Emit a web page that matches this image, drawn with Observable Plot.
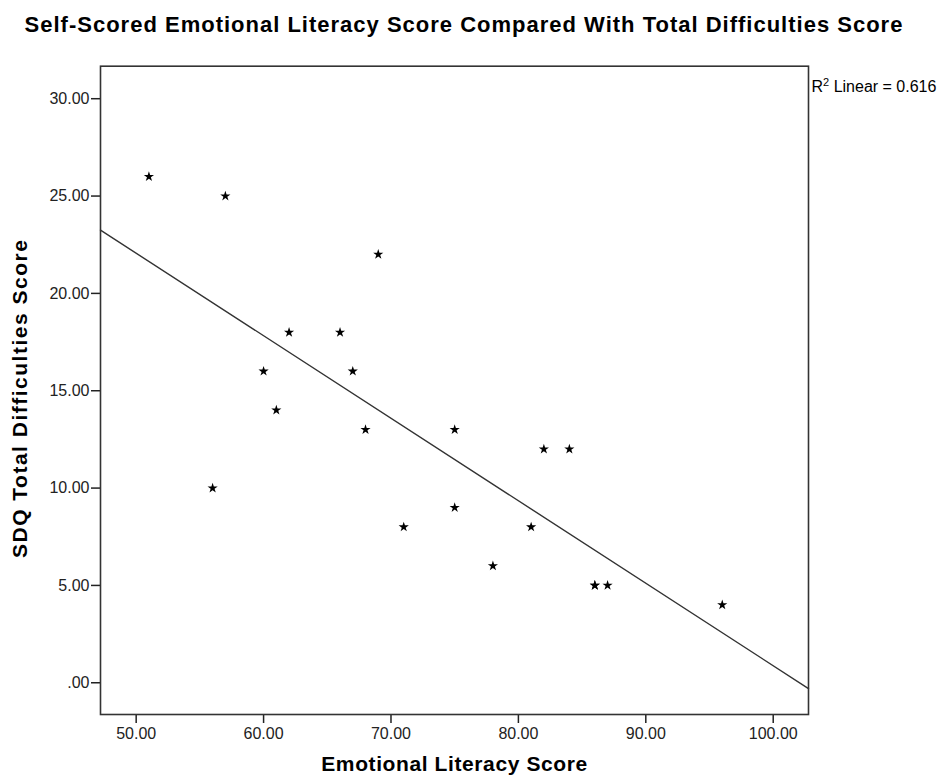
<!DOCTYPE html>
<html><head><meta charset="utf-8">
<script src="https://cdn.jsdelivr.net/npm/d3@7"></script>
<script src="https://cdn.jsdelivr.net/npm/@observablehq/plot@0.6"></script>
<style>
body{margin:0;background:#fff;font-family:"Liberation Sans",Arial,sans-serif;}
#title{height:50px;box-sizing:border-box;padding-top:14px;padding-left:0;width:928px;text-align:center;font-weight:bold;font-size:22px;letter-spacing:1px;color:#000;line-height:22px;white-space:nowrap;}
#chart svg{display:block;}
</style></head><body>
<div id="title">Self-Scored Emotional Literacy Score Compared With Total Difficulties Score</div>
<div id="chart"></div>
<script>
// one pair (86, 5) occurs twice (overlapping stars)
const emotionalLiteracy = [51, 57, 56, 60, 61, 62, 66, 67, 68, 69, 71, 75, 75, 78, 81, 82, 84, 86, 86, 87, 96];
const sdqTotal          = [26, 25, 10, 16, 14, 18, 18, 16, 13, 22,  8, 13,  9,  6,  8, 12, 12,  5,  5,  5,  4];
const xTicks = [50, 60, 70, 80, 90, 100];
const yTicks = [0, 5, 10, 15, 20, 25, 30];
const xDomain = [47.2, 102.77];
const yDomain = [-1.63, 31.67];
const xLabel = "Emotional Literacy Score";
const yLabel = "SDQ Total Difficulties Score";
const r2Value = "0.616";

const data = emotionalLiteracy.map((x, i) => ({x, y: sdqTotal[i]}));
const mx = d3.mean(emotionalLiteracy), my = d3.mean(sdqTotal);
const slope = d3.sum(data, d => (d.x - mx) * (d.y - my)) / d3.sum(data, d => (d.x - mx) ** 2);
const intercept = my - slope * mx;
const fit = xDomain.map(x => ({x, y: intercept + slope * x}));
const fmt = d => d === 0 ? ".00" : d.toFixed(2);

const chart = Plot.plot({
  width: 943, height: 732,
  marginLeft: 100, marginRight: 135, marginTop: 15.7, marginBottom: 68,
  style: {fontFamily: "'Liberation Sans', Arial, sans-serif", background: "#fff", color: "#222"},
  x: {domain: xDomain},
  y: {domain: yDomain},
  marks: [
    Plot.axisX({ticks: xTicks, tickFormat: fmt, tickSize: 9, tickPadding: 4, fontSize: 16, label: null, stroke: "#222", strokeWidth: 1.5}),
    Plot.axisY({ticks: yTicks, tickFormat: fmt, tickSize: 9, tickPadding: 2, fontSize: 16, label: null, stroke: "#222", strokeWidth: 1.5}),
    Plot.line(fit, {x: "x", y: "y", stroke: "#333", strokeWidth: 1.4}),
    Plot.dot(data, {x: "x", y: "y", symbol: "star", r: 3.2, fill: "#000", stroke: "none"}),
    Plot.frame({stroke: "#333", strokeWidth: 1.6}),
    Plot.text([xLabel], {frameAnchor: "bottom", dy: 56, text: d => d, fontSize: 21, fontWeight: "bold", fill: "#000", className: "xlab"}),
    Plot.text([yLabel], {frameAnchor: "left", textAnchor: "middle", dx: -80, dy: 8, rotate: -90, text: d => d, fontSize: 21, fontWeight: "bold", fill: "#000", className: "ylab"}),
    Plot.text([r2Value], {frameAnchor: "top-right", dx: 3, dy: 14, textAnchor: "start", text: d => "R2 Linear = " + d, fontSize: 16, fill: "#000", className: "r2"})
  ]
});
chart.querySelectorAll(".xlab text").forEach(t => t.setAttribute("letter-spacing", "0.6"));
chart.querySelectorAll(".ylab text").forEach(t => t.setAttribute("letter-spacing", "1.5"));
chart.querySelectorAll(".r2 text").forEach(t => {
  const s = t.textContent;
  t.textContent = "";
  const ns = "http://www.w3.org/2000/svg";
  const a = document.createElementNS(ns, "tspan"); a.textContent = "R";
  const b = document.createElementNS(ns, "tspan"); b.textContent = "2"; b.setAttribute("font-size", "11"); b.setAttribute("dy", "-6");
  const c = document.createElementNS(ns, "tspan"); c.textContent = s.slice(2); c.setAttribute("dy", "6");
  t.append(a, b, c);
});
document.getElementById("chart").appendChild(chart);
</script>
</body></html>
